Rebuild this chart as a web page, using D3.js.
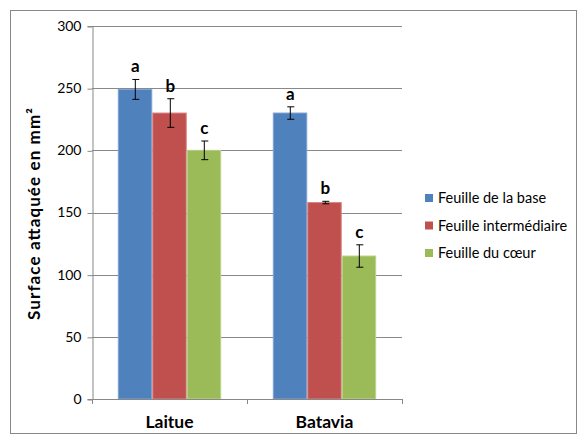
<!DOCTYPE html>
<html><head><meta charset="utf-8">
<script src="https://cdn.jsdelivr.net/npm/d3@7"></script>
<style>body{margin:0;background:#fff}svg{display:block}</style>
</head><body><svg id="c" width="581" height="434"></svg>
<script>
const categories = ["Laitue", "Batavia"];
const seriesNames = ["Feuille de la base", "Feuille intermédiaire", "Feuille du cœur"];
const colors = ["#4F81BD", "#C0504D", "#9BBB59"];
const strokes = ["#7FA3D3", "#D88583", "#BBD38C"];
const base = [249, 230];
const intermediate = [230, 158];
const coeur = [200, 115];
const errBase = [8, 5];
const errInter = [11.5, 1];
const errCoeur = [7.5, 9];
const lettersBase = ["a", "a"];
const lettersInter = ["b", "b"];
const lettersCoeur = ["c", "c"];
const yTicks = [0, 50, 100, 150, 200, 250, 300];

const values = [base, intermediate, coeur];
const errs = [errBase, errInter, errCoeur];
const letters = [lettersBase, lettersInter, lettersCoeur];

const svg = d3.select("#c");
const font = "Lato, 'Open Sans', sans-serif";
const m = {l: 92, r: 402, t: 26, b: 399};

svg.append("rect").attr("x", 10.5).attr("y", 10.5).attr("width", 566).attr("height", 423)
  .attr("fill", "none").attr("stroke", "#888");

const x0 = d3.scaleBand().domain(categories).range([m.l, m.r]).paddingInner(0.333).paddingOuter(0.1665);
const x1 = d3.scaleBand().domain(d3.range(3)).range([0, x0.bandwidth()]);
const y = d3.scaleLinear().domain([0, 300]).range([m.b, m.t]);

// gridlines
svg.append("g").selectAll("line").data(yTicks.filter(d => d > 0)).join("line")
  .attr("x1", m.l).attr("x2", m.r).attr("y1", d => Math.round(y(d)) + 0.5).attr("y2", d => Math.round(y(d)) + 0.5)
  .attr("stroke", "#888").attr("stroke-width", 1);

// y axis
const ya = svg.append("g").attr("transform", `translate(${m.l + 0.5},0)`)
  .call(d3.axisLeft(y).tickValues(yTicks).tickSize(5).tickPadding(6));
ya.select(".domain").attr("stroke", "#888");
ya.selectAll(".tick line").attr("stroke", "#888").attr("transform", "translate(0,0.5)");
ya.selectAll(".tick text").attr("font-family", font).attr("font-size", 14).attr("fill", "#000");

// bars
const groups = svg.append("g").selectAll("g").data(categories).join("g")
  .attr("transform", d => `translate(${x0(d)},0)`);
groups.each(function(cat, ci) {
  const g = d3.select(this);
  for (let s = 0; s < 3; s++) {
    const v = values[s][ci];
    const bx = x1(s);
    const bw = x1.bandwidth();
    g.append("rect").attr("x", bx + 0.5).attr("y", y(v)).attr("width", bw - 1).attr("height", y(0) - y(v))
      .attr("fill", colors[s]).attr("stroke", strokes[s]).attr("stroke-width", 1);
    const cx = Math.round(bx + bw / 2) + 0.5;
    const e = errs[s][ci];
    const et = y(v + e), eb = y(v - e);
    g.append("line").attr("x1", cx).attr("x2", cx).attr("y1", et).attr("y2", eb).attr("stroke", "#000");
    g.append("line").attr("x1", cx - 3).attr("x2", cx + 4).attr("y1", et).attr("y2", et).attr("stroke", "#000");
    g.append("line").attr("x1", cx - 3).attr("x2", cx + 4).attr("y1", eb).attr("y2", eb).attr("stroke", "#000");
    g.append("text").attr("x", cx).attr("y", et - 7).attr("text-anchor", "middle")
      .attr("font-family", font).attr("font-weight", "bold").attr("font-size", 17).text(letters[s][ci]);
  }
});

// x axis
svg.append("line").attr("x1", m.l).attr("x2", m.r).attr("y1", m.b + 0.5).attr("y2", m.b + 0.5).attr("stroke", "#888");
const bounds = [m.l, ...categories.map(c => x0(c) + x0.bandwidth() + x0.step() * x0.paddingInner() / 2)];
bounds[bounds.length - 1] = m.r;
svg.append("g").selectAll("line").data(bounds).join("line")
  .attr("x1", d => Math.round(d) + 0.5).attr("x2", d => Math.round(d) + 0.5).attr("y1", m.b).attr("y2", m.b + 5).attr("stroke", "#888");
svg.append("g").selectAll("text").data(categories).join("text")
  .attr("x", d => x0(d) + x0.bandwidth() / 2).attr("y", 428).attr("text-anchor", "middle")
  .attr("font-family", font).attr("font-weight", "bold").attr("font-size", 17.5).text(d => d);

// y title
svg.append("text").attr("transform", `translate(40,${214}) rotate(-90)`).attr("text-anchor", "middle")
  .attr("font-family", font).attr("font-weight", "bold").attr("font-size", 17)
  .attr("textLength", 212).attr("lengthAdjust", "spacing")
  .text("Surface attaquée en mm²");

// legend
const lg = svg.append("g").selectAll("g").data(seriesNames).join("g")
  .attr("transform", (d, i) => `translate(425,${198 + i * 27.5})`);
lg.append("rect").attr("x", 0).attr("y", -4).attr("width", 8).attr("height", 8).attr("fill", (d, i) => colors[i]);
lg.append("text").attr("x", 13).attr("y", 5).attr("font-family", font).attr("font-size", 14.5).text(d => d);
</script></body></html>
